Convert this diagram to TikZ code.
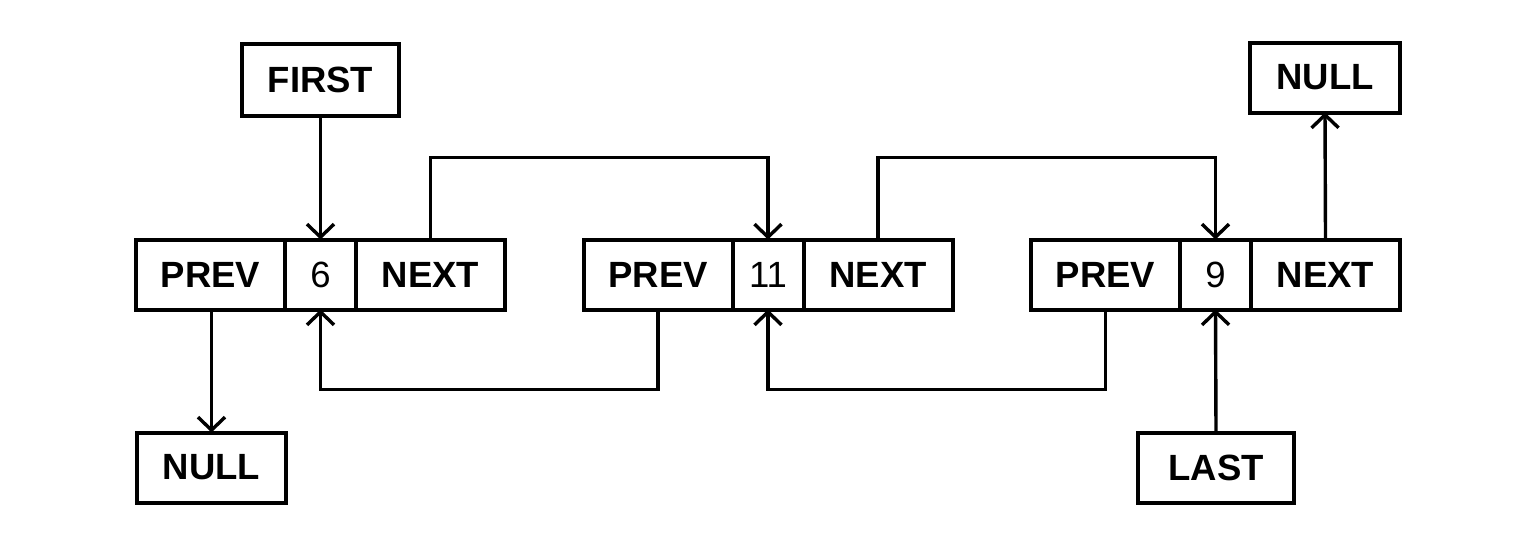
\documentclass[tikz,border=0pt]{standalone}
\usepackage{fontspec}
\setmainfont{Liberation Sans}
\usetikzlibrary{arrows.meta}
\begin{document}
\begin{tikzpicture}[x=1pt,y=-1pt,
  cell/.style={draw, line width=4pt, rectangle, inner sep=0pt, outer sep=0pt,
    minimum height=70pt, font=\fontsize{36.5}{40}\selectfont\bfseries},
  valcell/.style={cell, font=\fontsize{36.5}{40}\selectfont},
  wide/.style={minimum width=149pt},
  narrow/.style={minimum width=71pt},
  arr/.style={line width=3.4pt, -{Straight Barb[length=13pt,width=27pt,line width=3.4pt]}}]
\useasboundingbox (0,0) rectangle (1536,546);
\coordinate (top) at (0,157.5);
\coordinate (bot) at (0,389.5);
% node 1
\node[cell,wide]   (n1p) at (210.5,274.5) {PREV};
\node[valcell,narrow] (n1v) at (320.5,274.5) {6};
\node[cell,wide]   (n1n) at (430.5,274.5) {NEXT};
% node 2
\node[cell,wide]   (n2p) at (658,274.5) {PREV};
\node[valcell,narrow] (n2v) at (768,274.5) {11};
\node[cell,wide]   (n2n) at (878,274.5) {NEXT};
% node 3
\node[cell,wide]   (n3p) at (1105.5,274.5) {PREV};
\node[valcell,narrow] (n3v) at (1215.5,274.5) {9};
\node[cell,wide]   (n3n) at (1325.5,274.5) {NEXT};
% labels
\node[cell,minimum width=157pt,minimum height=72pt] (first) at (320.5,79.5) {FIRST};
\node[cell,minimum width=149pt] (null1) at (211.5,467.5) {NULL};
\node[cell,minimum width=150pt] (null2) at (1325,77.5) {NULL};
\node[cell,minimum width=156pt] (last) at (1216,467.5) {LAST};
% connectors
\draw[arr] (first.south) -- (n1v.north);
\draw[arr] (n1p.south -| null1.north) -- (null1.north);
\draw[arr] (n1n.north) -- (n1n.north |- top) -| (n2v.north);
\draw[arr] (n2n.north) -- (n2n.north |- top) -| (n3v.north);
\draw[arr] (n2p.south) -- (n2p.south |- bot) -| (n1v.south);
\draw[arr] (n3p.south) -- (n3p.south |- bot) -| (n2v.south);
\draw[arr] (n3n.north) -- (null2.south);
\draw[arr] (last.north) -- (n3v.south);
\end{tikzpicture}
\end{document}
